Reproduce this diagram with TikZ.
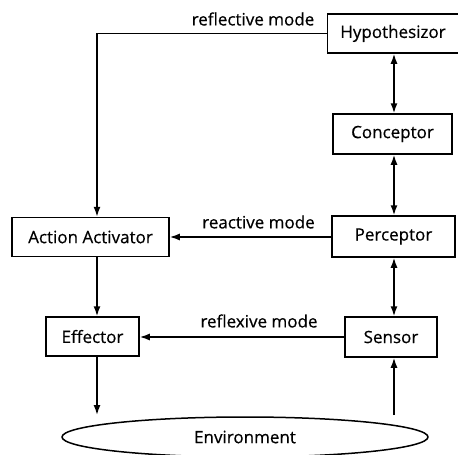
\documentclass[tikz,border=0pt]{standalone}
\usepackage{fontspec}
\setmainfont[UprightFeatures={FakeBold=0.5}]{Open Sans}
\usetikzlibrary{arrows.meta,shapes.geometric}
\begin{document}
\begin{tikzpicture}[x=1pt,y=-1pt,
  txt/.style={font=\fontsize{17}{19}\selectfont},
  box/.style={draw,line width=1.5pt,inner sep=0pt,txt},
  lbl/.style={inner sep=0pt,txt},
  conn/.style={line width=1.5pt,-{Latex[length=10pt,width=7pt]}},
  bconn/.style={line width=1.5pt,{Latex[length=10pt,width=7pt]}-{Latex[length=10pt,width=7pt]}}]
\useasboundingbox (0,0) rectangle (458,455);
\node[box,minimum width=131pt,minimum height=39pt] (H) at (393,33.5) {Hypothesizor};
\node[box,minimum width=119pt,minimum height=40pt] (C) at (392.5,134) {Conceptor};
\node[box,minimum width=123pt,minimum height=41pt] (P) at (393.5,236.5) {Perceptor};
\node[box,minimum width=157pt,minimum height=39pt] (AA) at (90.5,237) {Action Activator};
\node[box,minimum width=93pt,minimum height=39pt] (E) at (92.5,336.5) {Effector};
\node[box,minimum width=92pt,minimum height=40pt] (S) at (391,337) {Sensor};
\node[ellipse,draw,line width=1.5pt,minimum width=366pt,minimum height=40pt,inner sep=0pt,txt] (Env) at (245,437) {Environment};
\coordinate (colR) at (394,0);
\coordinate (colL) at (97,0);
\coordinate (envL) at (97,415);
\coordinate (envR) at (394,415);
\draw[bconn] (H.south -| colR) -- (C.north -| colR);
\draw[bconn] (C.south -| colR) -- (P.north -| colR);
\draw[bconn] (P.south -| colR) -- (S.north -| colR);
\draw[conn] (envR) -- (S.south -| colR);
\draw[conn] (H.west) -| (AA.north -| colL);
\draw[conn] (AA.south -| colL) -- (E.north -| colL);
\draw[conn] (E.south -| colL) -- (envL);
\draw[conn] (P.west |- AA.east) -- (AA.east);
\draw[conn] (S.west) -- (S.west -| E.east);
\node[lbl] (l1) at (253,19) {reflective mode};
\node[lbl] (l2) at (258.5,222) {reactive mode};
\node[lbl] (l3) at (259,321) {reflexive mode};
\end{tikzpicture}
\end{document}
